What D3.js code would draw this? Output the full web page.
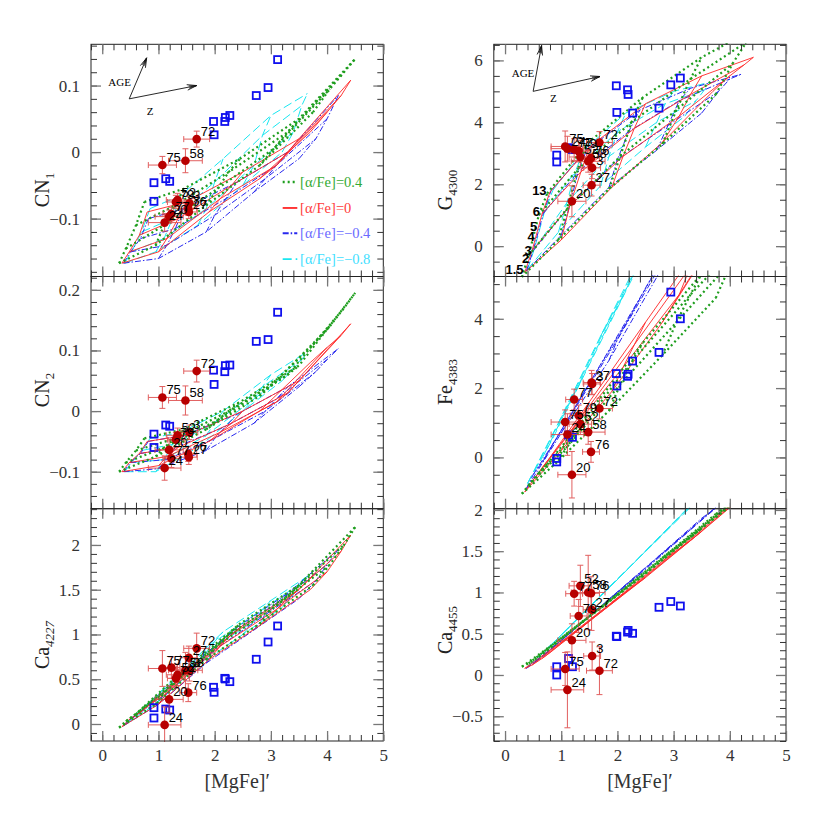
<!DOCTYPE html>
<html><head><meta charset="utf-8">
<script src="https://cdn.jsdelivr.net/npm/d3@7"></script>
<style>body{margin:0;background:#fff}</style>
</head><body><svg id="c" width="830" height="830"></svg>
<script>
// ---------------- DATA ----------------
// galaxies (filled red points)
const gal_names = ["3","20","24","27","52","58","72","75","76","77","79"];
const gal_mgfe  = [1.55,1.19,1.11,1.54,1.34,1.48,1.68,1.07,1.53,1.23,1.31];
const gal_mgfe_err = [0.15,0.25,0.29,0.15,0.2,0.3,0.23,0.25,0.15,0.15,0.15];
const gal_cn1 = [-0.077,-0.097,-0.106,-0.090,-0.072,-0.013,0.0195,-0.0195,-0.085,-0.093,-0.075];
const gal_cn1_err = [0.01,0.01,0.013,0.01,0.01,0.018,0.012,0.013,0.01,0.01,0.01];
const gal_cn2 = [-0.035,-0.064,-0.094,-0.076,-0.040,0.0175,0.066,0.0225,-0.071,-0.078,-0.047];
const gal_cn2_err = [0.012,0.015,0.02,0.012,0.012,0.024,0.018,0.018,0.012,0.015,0.012];
const gal_ca4227 = [0.60,0.275,-0.01,0.74,0.55,0.60,0.845,0.62,0.35,0.63,0.51];
const gal_ca4227_err = [0.12,0.15,0.2,0.13,0.12,0.2,0.17,0.2,0.1,0.12,0.1];
const gal_g4300 = [2.53,1.45,3.15,1.97,2.88,2.74,3.35,3.22,2.85,3.12,3.07];
const gal_g4300_err = [0.35,0.5,0.4,0.35,0.35,0.35,0.35,0.5,0.35,0.35,0.35];
const gal_fe4383 = [2.12,-0.50,0.66,2.16,0.96,0.73,1.41,1.02,0.16,1.67,1.21];
const gal_fe4383_err = [0.3,0.67,0.6,0.35,0.3,0.35,0.3,0.35,0.3,0.3,0.3];
const gal_ca4455 = [0.23,0.42,-0.18,0.79,1.08,1.0,0.052,0.073,0.99,0.985,0.715];
const gal_ca4455_err = [0.17,0.2,0.46,0.25,0.25,0.45,0.29,0.2,0.2,0.15,0.2];

// comparison objects (open blue squares)
const sq_mgfe   = [3.12,2.95,2.74,2.27,2.19,2.18,1.99,1.98,1.20,1.13,0.92,0.92];
const sq_cn1    = [0.139,0.097,0.085,0.055,0.052,0.046,0.026,0.046,-0.044,-0.040,-0.046,-0.074];
const sq_cn2    = [0.163,0.118,0.115,0.076,0.075,0.065,0.044,0.0675,-0.025,-0.023,-0.038,-0.060];
const sq_ca4227 = [1.095,0.916,0.723,0.473,0.503,0.51,0.354,0.41,0.156,0.167,0.182,0.067];
const sq_g4300  = [5.43,5.21,4.46,4.30,4.90,5.05,4.32,5.18,3.12,3.18,2.94,2.72];
const sq_fe4383 = [4.00,4.77,3.03,2.78,2.40,2.34,2.06,2.42,0.58,0.65,-0.03,-0.13];
const sq_ca4455 = [0.836,0.89,0.82,0.505,0.54,0.52,0.465,0.47,0.10,0.20,0.10,0.00];

// model grids: rows = ages (1.5, 3, 6, 13 Gyr), columns = metallicity
const mgfe_p04 = [[0.30,0.95,1.85,2.80,3.75],[0.42,1.10,2.05,3.05,4.05],[0.60,1.30,2.25,3.30,4.30],[0.75,1.45,2.45,3.50,4.50]];
const mgfe_p00 = [[0.35,1.00,1.90,2.80,3.70],[0.48,1.15,2.10,3.10,4.00],[0.66,1.35,2.30,3.30,4.25],[0.80,1.50,2.50,3.50,4.42]];
const mgfe_m04 = [[0.38,1.00,1.85,2.70,3.50],[0.50,1.15,2.00,2.90,3.80],[0.68,1.30,2.20,3.10,4.00],[0.82,1.45,2.40,3.30,4.20]];
const mgfe_m08 = [[0.40,0.95,1.70,2.50,3.20],[0.52,1.10,1.85,2.70,3.40],[0.70,1.25,2.00,2.85,3.55],[0.85,1.40,2.15,3.00,3.65]];

const cn1_p04 = [[-0.167,-0.14,-0.08,-0.02,0.06],[-0.145,-0.11,-0.055,0.005,0.095],[-0.11,-0.08,-0.03,0.03,0.12],[-0.075,-0.055,-0.01,0.05,0.14]];
const cn1_p00 = [[-0.167,-0.15,-0.09,-0.04,0.03],[-0.15,-0.13,-0.07,-0.02,0.06],[-0.125,-0.1,-0.05,0.0,0.085],[-0.09,-0.075,-0.03,0.02,0.108]];
const cn1_m04 = [[-0.167,-0.16,-0.12,-0.06,-0.01],[-0.15,-0.14,-0.095,-0.04,0.02],[-0.13,-0.115,-0.07,-0.02,0.05],[-0.1,-0.085,-0.045,0.0,0.085]];
const cn1_m08 = [[-0.167,-0.15,-0.11,-0.05,0.0],[-0.15,-0.13,-0.085,-0.02,0.03],[-0.12,-0.1,-0.045,0.025,0.07],[-0.085,-0.065,-0.01,0.055,0.088]];

const cn2_p04 = [[-0.1,-0.075,-0.03,0.025,0.11],[-0.085,-0.06,-0.015,0.045,0.14],[-0.065,-0.045,0.0,0.06,0.17],[-0.045,-0.03,0.015,0.075,0.195]];
const cn2_p00 = [[-0.1,-0.09,-0.05,0.0,0.08],[-0.085,-0.075,-0.035,0.015,0.105],[-0.07,-0.06,-0.02,0.03,0.125],[-0.05,-0.04,0.0,0.05,0.144]];
const cn2_m04 = [[-0.1,-0.095,-0.065,-0.02,0.04],[-0.085,-0.08,-0.045,0.0,0.065],[-0.07,-0.06,-0.025,0.02,0.085],[-0.05,-0.04,-0.005,0.04,0.103]];
const cn2_m08 = [[-0.1,-0.1,-0.06,0.0,0.05],[-0.085,-0.08,-0.04,0.02,0.07],[-0.065,-0.055,-0.02,0.04,0.085],[-0.045,-0.035,0.0,0.06,0.098]];

const ca42_p04 = [[-0.04,0.22,0.72,1.12,1.55],[0.03,0.35,0.88,1.3,1.78],[0.11,0.48,1.0,1.43,2.0],[0.2,0.6,1.12,1.55,2.2]];
const ca42_p00 = [[-0.03,0.22,0.72,1.1,1.5],[0.05,0.35,0.87,1.28,1.7],[0.12,0.48,1.0,1.4,1.93],[0.2,0.58,1.1,1.5,2.11]];
const ca42_m04 = [[-0.02,0.22,0.68,1.05,1.4],[0.05,0.34,0.83,1.22,1.6],[0.13,0.47,0.97,1.35,1.78],[0.22,0.58,1.08,1.46,1.95]];
const ca42_m08 = [[0.0,0.22,0.65,1.0,1.3],[0.07,0.35,0.8,1.15,1.45],[0.16,0.47,0.92,1.28,1.58],[0.25,0.58,1.03,1.38,1.65]];

const g43_p04 = [[-1.0,0.2,1.85,3.3,4.9],[-0.3,1.2,2.9,4.4,5.9],[1.0,2.5,4.0,5.4,6.6],[1.7,3.3,4.8,6.1,7.1]];
const g43_p00 = [[-0.85,0.2,1.9,3.35,5.0],[-0.15,1.3,2.9,4.2,5.5],[1.05,2.4,3.8,4.9,5.85],[1.75,3.2,4.6,5.5,6.1]];
const g43_m04 = [[-0.8,0.35,1.9,3.1,4.3],[-0.15,1.3,2.8,3.9,5.0],[1.05,2.4,3.7,4.7,5.4],[1.8,3.1,4.4,5.1,5.55]];
const g43_m08 = [[-0.75,0.45,1.95,3.2,4.2],[-0.1,1.4,2.9,4.0,4.7],[1.1,2.4,3.7,4.6,5.05],[1.8,3.1,4.3,5.0,5.3]];

const fe43_p04 = [[-1.05,-0.1,1.35,2.95,4.6],[-0.8,0.3,2.1,3.9,5.7],[-0.45,0.75,2.75,4.7,6.4],[-0.2,1.2,3.3,5.3,7.0]];
const fe43_p00 = [[-1.0,0.2,1.9,3.9,6.2],[-0.7,0.7,2.6,4.7,7.0],[-0.3,1.15,3.25,5.5,7.7],[0.0,1.6,3.9,6.2,8.3]];
const fe43_m04 = [[-0.9,0.7,2.8,5.2,7.6],[-0.5,1.15,3.4,5.9,8.3],[-0.1,1.6,4.0,6.6,9.0],[0.3,2.0,4.6,7.2,9.6]];
const fe43_m08 = [[-0.75,1.0,3.5,6.1,8.4],[-0.4,1.45,3.95,6.6,8.8],[0.1,1.9,4.35,7.1,9.3],[0.55,2.35,4.8,7.5,9.6]];

const ca44_p04 = [[0.1,0.42,0.9,1.42,1.95],[0.14,0.5,1.0,1.55,2.1],[0.22,0.6,1.1,1.67,2.22],[0.3,0.68,1.2,1.78,2.3]];
const ca44_p00 = [[0.08,0.4,0.88,1.38,1.9],[0.12,0.47,0.98,1.53,2.05],[0.2,0.57,1.08,1.63,2.18],[0.27,0.65,1.18,1.74,2.27]];
const ca44_m04 = [[0.08,0.42,0.92,1.42,1.9],[0.14,0.5,1.0,1.53,2.05],[0.23,0.6,1.12,1.65,2.18],[0.31,0.68,1.22,1.76,2.3]];
const ca44_m08 = [[0.1,0.45,0.95,1.5,1.98],[0.17,0.55,1.06,1.63,2.1],[0.28,0.66,1.16,1.74,2.22],[0.38,0.76,1.26,1.85,2.3]];

// tick labels
const x_ticks = [0,1,2,3,4,5];
const cn1_ticks = [-0.1,0,0.1];
const cn2_ticks = [-0.1,0,0.1,0.2];
const ca42_ticks = [0,0.5,1,1.5,2];
const g43_ticks = [0,2,4,6];
const fe43_ticks = [0,2,4];
const ca44_ticks = [-0.5,0,0.5,1,1.5,2];

// legend & annotations
const legend_labels = ["[α/Fe]=0.4","[α/Fe]=0","[α/Fe]=−0.4","[α/Fe]=−0.8"];
const age_labels = ["1.5","2","3","4","5","6","13"];
const age_label_x = [0.33,0.43,0.475,0.53,0.575,0.62,0.74];
const age_label_y = [-0.77,-0.4,-0.13,0.3,0.62,1.11,1.8];

// ---------------- LAYOUT ----------------
const colX = [[91,383.3],[493.8,786]];
const rowY = [[44.3,276.5],[276.5,508.7],[508.7,741]];
const xDomain = [-0.2,5];

const families = [
  {key:"m08", color:"#19e6f0", dash:"9,4", width:1, mgfe:mgfe_m08, idx:{cn1:cn1_m08,cn2:cn2_m08,ca42:ca42_m08,g43:g43_m08,fe43:fe43_m08,ca44:ca44_m08}, text:"#3fe0ff"},
  {key:"m04", color:"#2828ee", dash:"6,2,1.5,2", width:1, mgfe:mgfe_m04, idx:{cn1:cn1_m04,cn2:cn2_m04,ca42:ca42_m04,g43:g43_m04,fe43:fe43_m04,ca44:ca44_m04}, text:"#6a6aff"},
  {key:"p00", color:"#ff2626", dash:null, width:0.9, mgfe:mgfe_p00, idx:{cn1:cn1_p00,cn2:cn2_p00,ca42:ca42_p00,g43:g43_p00,fe43:fe43_p00,ca44:ca44_p00}, text:"#ff3c3c"},
  {key:"p04", color:"#1e9e1e", dash:"2,3", width:2.2, mgfe:mgfe_p04, idx:{cn1:cn1_p04,cn2:cn2_p04,ca42:ca42_p04,g43:g43_p04,fe43:fe43_p04,ca44:ca44_p04}, text:"#33aa33"}
];

const panels = [
  {key:"cn1", col:0,row:0, dom:[-0.187,0.162], ticks:cn1_ticks, minor:0.02, title:"CN", sub:"1", titleY:190, gal:gal_cn1, err:gal_cn1_err, sq:sq_cn1},
  {key:"cn2", col:0,row:1, dom:[-0.161,0.222], ticks:cn2_ticks, minor:0.02, title:"CN", sub:"2", titleY:390, gal:gal_cn2, err:gal_cn2_err, sq:sq_cn2},
  {key:"ca42",col:0,row:2, dom:[-0.19,2.405], ticks:ca42_ticks, minor:0.1, title:"Ca", sub:"4227", subItalic:true, titleY:645, gal:gal_ca4227, err:gal_ca4227_err, sq:sq_ca4227},
  {key:"g43", col:1,row:0, dom:[-0.98,6.52], ticks:g43_ticks, minor:0.5, title:"G", sub:"4300", titleY:190, gal:gal_g4300, err:gal_g4300_err, sq:sq_g4300},
  {key:"fe43",col:1,row:1, dom:[-1.48,5.22], ticks:fe43_ticks, minor:0.5, title:"Fe", sub:"4383", titleY:382, gal:gal_fe4383, err:gal_fe4383_err, sq:sq_fe4383},
  {key:"ca44",col:1,row:2, dom:[-0.8,2.015], ticks:ca44_ticks, minor:0.1, title:"Ca", sub:"4455", titleY:630, gal:gal_ca4455, err:gal_ca4455_err, sq:sq_ca4455}
];

const SERIF = "'Liberation Serif','DejaVu Serif',serif";
const SANS = "'Liberation Sans','DejaVu Sans',sans-serif";
const fmt = d3.format("~g");
function minorVals(dom, step){
  const a=Math.ceil(dom[0]/step-1e-9), b=Math.floor(dom[1]/step+1e-9);
  return d3.range(a,b+1).map(k=>+(k*step).toFixed(6));
}

const svg = d3.select("#c");
const defs = svg.append("defs");

panels.forEach(p=>{
  const [x0,x1]=colX[p.col], [y0,y1]=rowY[p.row];
  const x=d3.scaleLinear().domain(xDomain).range([x0,x1]);
  const y=d3.scaleLinear().domain(p.dom).range([y1,y0]);
  const cid="clip_"+p.key;
  defs.append("clipPath").attr("id",cid).append("rect")
    .attr("x",x0).attr("y",y0-1).attr("width",x1-x0).attr("height",y1-y0+2);
  const g=svg.append("g");
  const gm=g.append("g").attr("clip-path",`url(#${cid})`);
  const line=d3.line().x(d=>x(d[0])).y(d=>y(d[1]));

  // models
  families.forEach(f=>{
    const X=f.mgfe, Y=f.idx[p.key];
    const lines=[];
    X.forEach((row,i)=>lines.push(row.map((v,j)=>[v,Y[i][j]])));
    for(let j=0;j<X[0].length;j++) lines.push(X.map((row,i)=>[row[j],Y[i][j]]));
    gm.append("g").selectAll("path").data(lines).join("path")
      .attr("d",line).attr("fill","none").attr("stroke",f.color)
      .attr("stroke-width",f.width).attr("stroke-dasharray",f.dash);
  });

  // blue squares
  gm.append("g").selectAll("rect").data(sq_mgfe.map((v,i)=>[v,p.sq[i]])).join("rect")
    .attr("x",d=>x(d[0])-3.5).attr("y",d=>y(d[1])-3.5).attr("width",7).attr("height",7)
    .attr("fill","none").attr("stroke","#1010ee").attr("stroke-width",1.8);

  // galaxies with error bars
  const gd=gal_names.map((n,i)=>({n, x:gal_mgfe[i], xe:gal_mgfe_err[i], y:p.gal[i], ye:p.err[i]}));
  const ge=gm.append("g").attr("stroke","#d44").attr("stroke-width",1).attr("opacity",0.85);
  gd.forEach(d=>{
    const cx=x(d.x), cy=y(d.y);
    const xa=x(d.x-d.xe), xb=x(d.x+d.xe), ya=y(d.y-d.ye), yb=y(d.y+d.ye);
    ge.append("line").attr("x1",xa).attr("x2",xb).attr("y1",cy).attr("y2",cy);
    ge.append("line").attr("x1",xa).attr("x2",xa).attr("y1",cy-3).attr("y2",cy+3);
    ge.append("line").attr("x1",xb).attr("x2",xb).attr("y1",cy-3).attr("y2",cy+3);
    ge.append("line").attr("x1",cx).attr("x2",cx).attr("y1",ya).attr("y2",yb);
    ge.append("line").attr("x1",cx-3).attr("x2",cx+3).attr("y1",ya).attr("y2",ya);
    ge.append("line").attr("x1",cx-3).attr("x2",cx+3).attr("y1",yb).attr("y2",yb);
  });
  gm.append("g").selectAll("circle").data(gd).join("circle")
    .attr("cx",d=>x(d.x)).attr("cy",d=>y(d.y)).attr("r",4.3).attr("fill","#b80000");
  g.append("g").selectAll("text").data(gd).join("text")
    .attr("x",d=>x(d.x)+4).attr("y",d=>y(d.y)-3).text(d=>d.n)
    .style("font-family",SANS).style("font-size","13px").attr("fill","#000");

  // frame
  g.append("rect").attr("x",x0).attr("y",y0).attr("width",x1-x0).attr("height",y1-y0)
    .attr("fill","none").attr("stroke","#222").attr("stroke-width",1);

  // axes (ticks inward)
  const bottom = p.row===2;
  const ax = (sel)=>sel.call(s=>s.select(".domain").remove())
     .call(s=>s.selectAll("line").attr("stroke","#333"));
  const xMinor=minorVals(xDomain,0.2);
  [[d3.axisBottom,y1],[d3.axisTop,y0]].forEach(([A,yy],k)=>{
    g.append("g").attr("transform",`translate(0,${yy})`).call(A(x).tickValues(xMinor).tickSize(-6).tickFormat("")).call(ax);
    const a=A(x).tickValues(x_ticks).tickSize(-10).tickPadding(8).tickFormat(bottom&&k===0?fmt:"");
    const ga=g.append("g").attr("transform",`translate(0,${yy})`).call(a).call(ax);
    ga.selectAll("line").attr("stroke","#777").attr("stroke-width",1.3);
    ga.attr("font-family",SERIF).attr("font-size",17).selectAll("text").attr("fill","#333");
  });
  const yMinor=minorVals(p.dom,p.minor);
  [[d3.axisLeft,x0],[d3.axisRight,x1]].forEach(([A,xx],k)=>{
    g.append("g").attr("transform",`translate(${xx},0)`).call(A(y).tickValues(yMinor).tickSize(-6).tickFormat("")).call(ax);
    const a=A(y).tickValues(p.ticks).tickSize(-10).tickPadding(k===0?11:8).tickFormat(k===0?fmt:"");
    const ga=g.append("g").attr("transform",`translate(${xx},0)`).call(a).call(ax);
    ga.selectAll("line").attr("stroke","#777").attr("stroke-width",1.3);
    ga.attr("font-family",SERIF).attr("font-size",17).selectAll("text").attr("fill","#333");
  });

  // y title
  const lx = p.col===0 ? 49 : 452;
  const t=svg.append("text").attr("transform",`translate(${lx},${p.titleY}) rotate(-90)`)
    .attr("text-anchor","middle").style("font-family",SERIF).style("font-size","20px").attr("fill","#222");
  t.append("tspan").text(p.title);
  t.append("tspan").attr("dy",5).style("font-size","13px").style("font-style",p.subItalic?"italic":"normal").text(p.sub);

  // x title
  if(bottom){
    svg.append("text").attr("x",(x0+x1)/2).attr("y",788).attr("text-anchor","middle")
      .style("font-family",SERIF).style("font-size","20px").attr("fill","#333").text("[MgFe]′");
  }

  // arrows AGE / Z
  function arrows(o, ageTip, zTip, ageLbl, zLbl){
    const ga=g.append("g").attr("stroke","#111").attr("stroke-width",0.9).attr("fill","none");
    [ageTip,zTip].forEach(tp=>{
      const ox=x(o[0]), oy=y(o[1]), tx=x(tp[0]), ty=y(tp[1]);
      ga.append("line").attr("x1",ox).attr("y1",oy).attr("x2",tx).attr("y2",ty);
      const ang=Math.atan2(ty-oy,tx-ox);
      [0.28,-0.28,0.14,-0.14].forEach((da,i)=>{
        const L = i<2?10:8;
        ga.append("line").attr("x1",tx).attr("y1",ty)
          .attr("x2",tx-L*Math.cos(ang+da)).attr("y2",ty-L*Math.sin(ang+da));
      });
    });
    g.append("text").attr("x",x(ageLbl[0])).attr("y",y(ageLbl[1])).attr("text-anchor","middle")
      .attr("dominant-baseline","central").style("font-family",SERIF).style("font-size","11px").text("AGE");
    g.append("text").attr("x",x(zLbl[0])).attr("y",y(zLbl[1])).attr("text-anchor","middle")
      .attr("dominant-baseline","central").style("font-family",SERIF).style("font-size","11px").text("Z");
  }
  if(p.key==="cn1") arrows([0.48,0.08],[0.79,0.1416],[1.68,0.1],[0.31,0.105],[0.85,0.0625]);
  if(p.key==="g43") arrows([0.50,5.0],[0.65,6.48],[1.69,5.48],[0.32,5.59],[0.86,4.78]);

  // legend in CN1
  if(p.key==="cn1"){
    const order=[3,2,1,0];
    const ly=[-0.045,-0.084,-0.122,-0.161];
    order.forEach((fi,i)=>{
      const f=families[fi];
      g.append("line").attr("x1",x(3.21)).attr("x2",x(3.47)).attr("y1",y(ly[i])).attr("y2",y(ly[i]))
        .attr("stroke",f.color).attr("stroke-width",f.key==="p04"?2.4:1.8).attr("stroke-dasharray",f.dash);
      g.append("text").attr("x",x(3.52)).attr("y",y(ly[i])).attr("dominant-baseline","central")
        .style("font-family",SERIF).style("font-size","14.5px").attr("fill",f.text).text(legend_labels[i]);
    });
  }
  // age labels in G4300
  if(p.key==="g43"){
    g.append("g").selectAll("text").data(age_labels).join("text")
      .attr("x",(d,i)=>x(age_label_x[i])).attr("y",(d,i)=>y(age_label_y[i]))
      .attr("text-anchor","end").attr("dominant-baseline","central")
      .style("font-family",SANS).style("font-weight","bold").style("font-size","13px").text(d=>d);
  }
});
</script></body></html>
